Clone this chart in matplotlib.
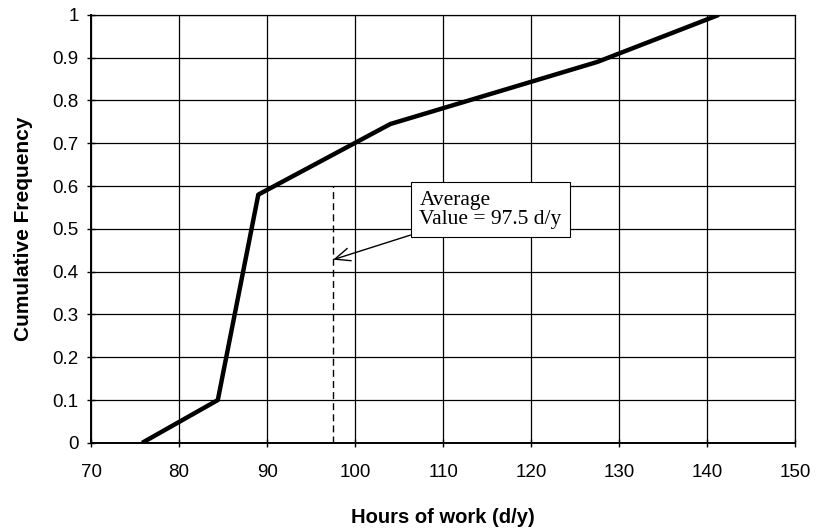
import matplotlib.pyplot as plt

# Data
hours = [75.8, 84.4, 89.0, 104.0, 127.5, 141.3]
cum_freq = [0.0, 0.1, 0.58, 0.745, 0.89, 1.0]
avg_value = 97.5
avg_top = 0.6

x_ticks = list(range(70, 151, 10))
y_ticks = [0, 0.1, 0.2, 0.3, 0.4, 0.5, 0.6, 0.7, 0.8, 0.9, 1]
y_tick_labels = ["0", "0.1", "0.2", "0.3", "0.4", "0.5", "0.6", "0.7", "0.8", "0.9", "1"]

plt.rcParams['font.family'] = ['Liberation Sans', 'DejaVu Sans']

fig = plt.figure(figsize=(8.2, 5.31), dpi=100)
ax = fig.add_axes([0.111, 0.166, 0.859, 0.806])

ax.plot(hours, cum_freq, color='black', linewidth=3.2, solid_capstyle='butt', zorder=3)
ax.plot([avg_value, avg_value], [0, avg_top], color='black', linestyle=(0, (5, 3)),
        linewidth=1.0, zorder=2)

ax.set_xlim(70, 150)
ax.set_ylim(0, 1)
ax.set_xticks(x_ticks)
ax.set_yticks(y_ticks)
ax.set_yticklabels(y_tick_labels)
ax.grid(True, color='black', linewidth=0.9)
ax.set_axisbelow(True)
ax.tick_params(axis='both', direction='inout', length=6, labelsize=13.5, width=1)
ax.tick_params(axis='x', pad=12)
ax.tick_params(axis='y', pad=6)

for side in ['left', 'bottom']:
    ax.spines[side].set_linewidth(1.4)
for side in ['top', 'right']:
    ax.spines[side].set_linewidth(0.9)

ax.set_xlabel("Hours of work (d/y)", fontsize=14.5, fontweight='bold', labelpad=20)
ax.set_ylabel("Cumulative Frequency", fontsize=15, fontweight='bold', labelpad=14)

ax.annotate("Average\nValue = 97.5 d/y", xy=(97.5, 0.428), xytext=(107.3, 0.545),
            fontsize=15.5, family='Liberation Serif', va='center', ha='left',
            linespacing=1.0,
            bbox=dict(boxstyle='square,pad=0.4', fc='white', ec='black', lw=0.8),
            arrowprops=dict(arrowstyle='->,head_length=0.7,head_width=0.3',
                            color='black', lw=1.0, shrinkA=0, shrinkB=0))

fig.savefig("out.png", dpi=100)
